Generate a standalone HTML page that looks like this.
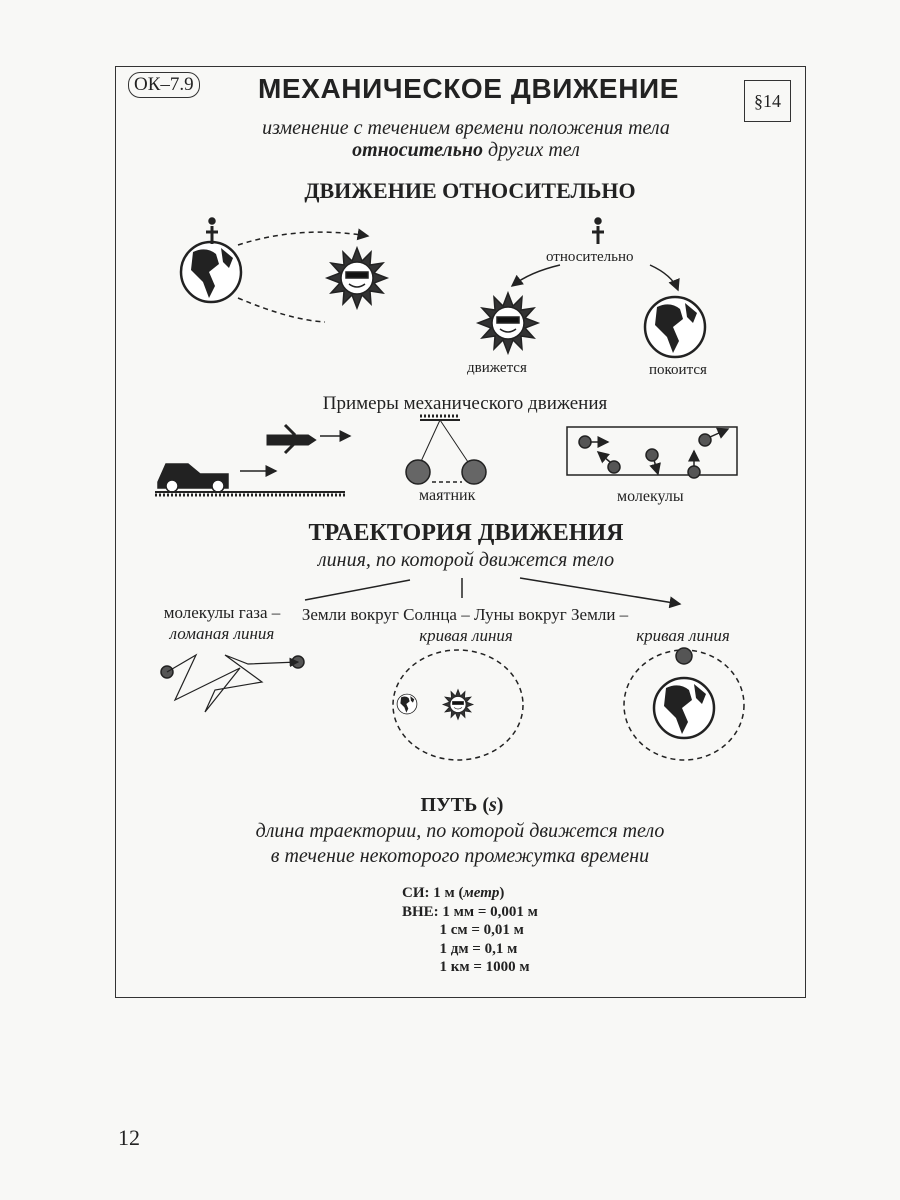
<!DOCTYPE html>
<html><head><meta charset="utf-8"><style>
body{margin:0;width:900px;height:1200px;background:#f8f8f6;position:relative;overflow:hidden;font-family:"Liberation Serif",serif;color:#222}
.t{position:absolute;white-space:nowrap}
.c{transform:translateX(-50%)}
i{font-style:italic}
</style></head><body>
<div style="position:absolute;left:115px;top:66px;width:689px;height:930px;border:1.5px solid #333"></div>
<div class="t" style="left:128px;top:72px;border:1.5px solid #333;border-radius:12px;padding:0 5px;font-size:19px;line-height:24px">ОК–7.9</div>
<div class="t" style="left:258px;top:73px;font-family:'Liberation Sans',sans-serif;font-weight:bold;font-size:28px;letter-spacing:0.6px">МЕХАНИЧЕСКОЕ ДВИЖЕНИЕ</div>
<div class="t" style="left:744px;top:80px;width:45px;height:40px;border:1.5px solid #333;font-size:18px;text-align:center;line-height:40px">§14</div>
<div class="t c" style="left:466px;top:117px;font-size:20px"><i>изменение с течением времени положения тела</i></div>
<div class="t c" style="left:466px;top:139px;font-size:20px"><i><b>относительно</b> других тел</i></div>
<div class="t c" style="left:470px;top:178px;font-size:22px;font-weight:bold">ДВИЖЕНИЕ ОТНОСИТЕЛЬНО</div>
<div class="t" style="left:546px;top:249px;font-size:15px">относительно</div>
<div class="t" style="left:467px;top:360px;font-size:15px">движется</div>
<div class="t" style="left:649px;top:362px;font-size:15px">покоится</div>
<div class="t c" style="left:465px;top:393px;font-size:19px">Примеры механического движения</div>
<div class="t" style="left:419px;top:487px;font-size:16px">маятник</div>
<div class="t" style="left:617px;top:488px;font-size:16px">молекулы</div>
<div class="t c" style="left:466px;top:520px;font-size:24px;font-weight:bold">ТРАЕКТОРИЯ ДВИЖЕНИЯ</div>
<div class="t c" style="left:466px;top:549px;font-size:20px"><i>линия, по которой движется тело</i></div>
<div class="t c" style="left:222px;top:603px;font-size:17px">молекулы газа –</div>
<div class="t c" style="left:222px;top:624px;font-size:17px"><i>ломаная линия</i></div>
<div class="t c" style="left:465px;top:605px;font-size:17px">Земли вокруг Солнца – Луны вокруг Земли –</div>
<div class="t c" style="left:466px;top:626px;font-size:17px"><i>кривая линия</i></div>
<div class="t c" style="left:683px;top:626px;font-size:17px"><i>кривая линия</i></div>
<div class="t c" style="left:462px;top:794px;font-size:20px;font-weight:bold">ПУТЬ (<i>s</i>)</div>
<div class="t c" style="left:460px;top:820px;font-size:20px"><i>длина траектории, по которой движется тело</i></div>
<div class="t c" style="left:460px;top:845px;font-size:20px"><i>в течение некоторого промежутка времени</i></div>
<div class="t" style="left:402px;top:884px;font-size:15px;line-height:18.5px;font-weight:bold">СИ: 1 м (<i>метр</i>)<br>ВНЕ: 1 мм = 0,001 м<br>&nbsp;&nbsp;&nbsp;&nbsp;&nbsp;&nbsp;&nbsp;&nbsp;&nbsp;&nbsp;1 см = 0,01 м<br>&nbsp;&nbsp;&nbsp;&nbsp;&nbsp;&nbsp;&nbsp;&nbsp;&nbsp;&nbsp;1 дм = 0,1 м<br>&nbsp;&nbsp;&nbsp;&nbsp;&nbsp;&nbsp;&nbsp;&nbsp;&nbsp;&nbsp;1 км = 1000 м</div>
<div class="t" style="left:118px;top:1125px;font-size:22px">12</div>
<svg width="900" height="1200" style="position:absolute;left:0;top:0" fill="none" stroke="#222" stroke-width="1.5">
<defs><marker id="a" markerWidth="8" markerHeight="8" refX="7" refY="4" orient="auto"><path d="M0,0L8,4L0,8z" fill="#222" stroke="none"/></marker>
<g id="sun"><path d="M0,-30L5,-17L14,-26L13,-13L26,-15L17,-5L30,0L17,5L26,15L13,13L14,26L5,17L0,30L-5,17L-14,26L-13,13L-26,15L-17,5L-30,0L-17,-5L-26,-15L-13,-13L-14,-26L-5,-17Z" fill="#333"/><circle r="16" fill="#fff"/><rect x="-11" y="-6" width="22" height="6" fill="#111"/><path d="M-8,6Q0,12 8,6"/></g>
<g id="earth"><circle r="30" fill="#fff" stroke-width="2.5"/><path d="M-18,-20Q-5,-26 5,-18L8,-8L-2,0L4,14L-2,26L-8,10L-20,-2Z" fill="#222" stroke="none"/><path d="M10,-24L22,-14L18,-4L12,-10Z" fill="#222" stroke="none"/></g>
<g id="ball"><circle r="6" fill="#555"/></g></defs>
<use href="#earth" x="211" y="272"/>
<path d="M212,226v18M206,232h12" stroke-width="3"/><circle cx="212" cy="221" r="3" fill="#222"/>
<path d="M238,245Q300,225 368,236" stroke-dasharray="5,4" marker-end="url(#a)"/>
<path d="M238,298Q290,320 325,322" stroke-dasharray="5,4"/>
<use href="#sun" x="357" y="278"/>
<path d="M598,226v18M592,232h12" stroke-width="3"/><circle cx="598" cy="221" r="3" fill="#222"/>
<path d="M560,265Q530,272 512,286" marker-end="url(#a)"/>
<path d="M650,265Q672,275 678,290" marker-end="url(#a)"/>
<use href="#sun" x="508" y="323"/>
<use href="#earth" x="675" y="327"/>
<path d="M158,482l8-18h22l12,10h28v14h-70z" fill="#222"/><circle cx="172" cy="486" r="6" fill="#fff"/><circle cx="218" cy="486" r="6" fill="#fff"/>
<path d="M155,492h190" stroke-width="2"/><path d="M155,495h190" stroke-dasharray="2,2" stroke-width="3"/>
<path d="M240,471h36" marker-end="url(#a)"/>
<path d="M268,436h40l6,4-6,4h-40z M285,425l10,10 M285,453l10-10" fill="#222" stroke-width="3"/>
<path d="M320,436h30" marker-end="url(#a)"/>
<path d="M420,420h40" stroke-width="2"/><path d="M420,416h40" stroke-dasharray="2,2" stroke-width="3"/>
<path d="M440,420L418,468M440,420L472,468" stroke-width="1"/>
<circle cx="418" cy="472" r="12" fill="#666"/><circle cx="474" cy="472" r="12" fill="#666"/>
<path d="M432,482h30" stroke-dasharray="4,3"/>
<rect x="567" y="427" width="170" height="48"/>
<use href="#ball" x="585" y="442"/><path d="M590,442h18" marker-end="url(#a)"/>
<use href="#ball" x="705" y="440"/><path d="M710,437l18-8" marker-end="url(#a)"/>
<use href="#ball" x="614" y="467"/><path d="M610,462l-12-10" marker-end="url(#a)"/>
<use href="#ball" x="652" y="455"/><path d="M654,460l4,14" marker-end="url(#a)"/>
<use href="#ball" x="694" y="472"/><path d="M694,466v-15" marker-end="url(#a)"/>
<path d="M410,580L305,600M462,578v20M520,578l160,26" marker-end="url(#a)"/>
<use href="#ball" x="167" y="672"/><use href="#ball" x="298" y="662"/>
<path d="M167,672L196,655L175,700L240,668L205,712L215,690L262,682L225,655L248,664L298,662" stroke-width="1.2" marker-end="url(#a)"/>
<ellipse cx="458" cy="705" rx="65" ry="55" stroke-dasharray="5,4"/>
<use href="#sun" x="458" y="705" transform="translate(229,352) scale(0.5)"/>
<g transform="translate(407,704) scale(0.33)"><use href="#earth"/></g>
<ellipse cx="684" cy="705" rx="60" ry="55" stroke-dasharray="5,4"/>
<use href="#earth" x="684" y="708"/>
<circle cx="684" cy="656" r="8" fill="#555"/>
</svg>
</body></html>
